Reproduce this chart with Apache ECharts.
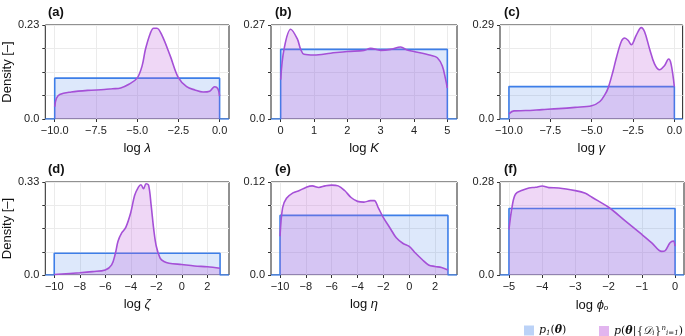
<!DOCTYPE html>
<html>
<head>
<meta charset="utf-8">
<script src="https://cdn.jsdelivr.net/npm/echarts@6/dist/echarts.min.js"></script>
<style>html,body{margin:0;padding:0;background:#fff}#chart{width:685px;height:336px}</style>
</head>
<body>
<div id="chart"></div>
<script>
// posterior density curves
const lambdaX = [-10, -9.9, -9.7, -9, -8, -7, -6.5, -6, -5.5, -5, -4.7, -4.5, -4.2, -4.0, -3.8, -3.5, -3.0, -2.5, -2.0, -1.5, -1.0, -0.6, -0.3, -0.1, 0];
const lambdaY = [0.03, 0.05, 0.06, 0.066, 0.07, 0.072, 0.074, 0.076, 0.085, 0.1, 0.13, 0.17, 0.21, 0.222, 0.222, 0.205, 0.155, 0.101, 0.079, 0.071, 0.066, 0.068, 0.079, 0.074, 0.056];
const kX = [0, 0.1, 0.3, 0.5, 0.6, 0.7, 1.0, 1.5, 2.0, 2.5, 2.7, 3.0, 3.3, 3.6, 3.8, 4.0, 4.5, 4.7, 4.85, 4.95, 5.0];
const kY = [0.113, 0.2, 0.258, 0.23, 0.2, 0.186, 0.184, 0.189, 0.194, 0.197, 0.203, 0.197, 0.2, 0.207, 0.198, 0.194, 0.183, 0.176, 0.152, 0.113, 0.089];
const gammaX = [-10, -9.7, -9, -8, -7, -6, -5, -4.5, -4.2, -4.0, -3.7, -3.5, -3.2, -3.0, -2.8, -2.6, -2.3, -2.0, -1.8, -1.5, -1.2, -0.9, -0.6, -0.35, -0.2, 0];
const gammaY = [0.016, 0.025, 0.026, 0.029, 0.032, 0.036, 0.041, 0.054, 0.075, 0.096, 0.149, 0.19, 0.24, 0.25, 0.243, 0.229, 0.259, 0.282, 0.269, 0.217, 0.17, 0.152, 0.164, 0.185, 0.17, 0.1];
const zetaX = [-10, -8, -7, -6, -5.5, -5.2, -5.0, -4.7, -4.4, -4.0, -3.7, -3.4, -3.2, -3.0, -2.8, -2.6, -2.4, -2.2, -2.0, -1.7, -1.4, -1, 0, 1, 2, 3];
const zetaY = [0.002, 0.008, 0.012, 0.018, 0.036, 0.078, 0.12, 0.15, 0.168, 0.222, 0.282, 0.312, 0.32, 0.306, 0.324, 0.318, 0.246, 0.162, 0.102, 0.06, 0.048, 0.042, 0.037, 0.032, 0.029, 0.024];
const etaX = [-10, -9.8, -9.5, -9, -8.5, -8, -7.5, -7, -6.5, -6, -5.5, -5, -4.5, -4, -3.5, -3, -2.7, -2.4, -2, -1.5, -1, -0.5, 0, 0.5, 1, 1.5, 2, 2.5, 3];
const etaY = [0.05, 0.087, 0.099, 0.106, 0.109, 0.113, 0.115, 0.113, 0.115, 0.116, 0.115, 0.109, 0.1, 0.095, 0.094, 0.096, 0.096, 0.087, 0.074, 0.061, 0.048, 0.041, 0.037, 0.028, 0.02, 0.013, 0.011, 0.0096, 0.0065];
const phiX = [-5, -4.9, -4.8, -4.6, -4.4, -4.2, -4.0, -3.8, -3.5, -3.0, -2.7, -2.5, -2.0, -1.5, -1.0, -0.7, -0.4, -0.3, -0.15, -0.05, 0];
const phiY = [0.137, 0.209, 0.244, 0.255, 0.262, 0.264, 0.268, 0.263, 0.262, 0.254, 0.246, 0.234, 0.204, 0.163, 0.122, 0.097, 0.071, 0.073, 0.097, 0.102, 0.087];

// uniform priors
const priorLow = [-10, 0, -10, -10, -10, -5];
const priorHigh = [0, 5, 0, 3, 3, 0];
const priorHeight = [0.1, 0.2, 0.1, 1 / 13, 1 / 13, 0.2];

const panelTags = ['(a)', '(b)', '(c)', '(d)', '(e)', '(f)'];
const axisNames = ['{r|log }{i|λ}', '{r|log }{i|K}', '{r|log }{i|γ}', '{r|log }{i|ζ}', '{r|log }{i|η}', '{r|log }{i|ϕ}{s|o}'];
const yMax = [0.23, 0.27, 0.29, 0.33, 0.12, 0.28];
const yLabels = ['0.23', '0.27', '0.29', '0.33', '0.12', '0.28'];
const xRange = [[-10.57, 0.57], [-0.29, 5.29], [-10.54, 0.5], [-10.7, 3.7], [-10.7, 3.7], [-5.27, 0.27]];
const xTicks = [
  [-10, -7.5, -5, -2.5, 0],
  [0, 1, 2, 3, 4, 5],
  [-10, -7.5, -5, -2.5, 0],
  [-10, -8, -6, -4, -2, 0, 2],
  [-10, -8, -6, -4, -2, 0, 2],
  [-5, -4, -3, -2, -1, 0]
];
const xDecimals = [1, 0, 1, 0, 0, 0];
const postX = [lambdaX, kX, gammaX, zetaX, etaX, phiX];
const postY = [lambdaY, kY, gammaY, zetaY, etaY, phiY];

const lefts = [44, 271, 500];
const widths = [185, 186, 184];
const tops = [25, 182];
const heights = [94, 93];

const FONT = 'Liberation Sans, Arial, sans-serif';
const SERIF = 'DejaVu Serif, serif';
const chart = echarts.init(document.getElementById('chart'));

const grid = [], xAxis = [], yAxis = [], series = [], title = [];
for (let i = 0; i < 6; i++) {
  const col = i % 3, row = Math.floor(i / 3);
  grid.push({
    left: lefts[col], top: tops[row], width: widths[col], height: heights[row],
    show: true, borderColor: '#222', borderWidth: 1, backgroundColor: 'transparent'
  });
  title.push({
    text: panelTags[i], left: lefts[col] - 1, top: tops[row] - 24,
    textStyle: { fontFamily: FONT, fontSize: 13, fontWeight: 'bold', color: '#111' }
  });
  const m = yMax[i];
  xAxis.push({
    type: 'value', gridIndex: i, min: xRange[i][0], max: xRange[i][1],
    axisLine: { show: false, onZero: false },
    axisTick: { show: true, length: 3, customValues: xTicks[i], lineStyle: { color: '#333' } },
    axisLabel: {
      customValues: xTicks[i], margin: 6, fontFamily: FONT, fontSize: 11, color: '#222',
      formatter: v => (v < 0 ? '\u2212' : '') + Math.abs(v).toFixed(xDecimals[i])
    },
    splitLine: { show: true, lineStyle: { color: '#ebebeb', width: 1 } },
    name: axisNames[i], nameLocation: 'middle', nameGap: 23,
    nameTextStyle: {
      fontFamily: FONT, fontSize: 13, color: '#111',
      rich: {
        r: { fontFamily: FONT, fontSize: 13, color: '#111' },
        i: { fontFamily: FONT, fontStyle: 'italic', fontSize: 13, color: '#111' },
        s: { fontFamily: FONT, fontStyle: 'italic', fontSize: 8, color: '#111', verticalAlign: 'bottom', padding: [6, 0, 0, 0] }
      }
    }
  });
  yAxis.push({
    type: 'value', gridIndex: i, min: 0, max: m,
    axisLine: { show: false, onZero: false },
    axisTick: { show: true, length: 3, customValues: [0, m / 4, m / 2, 3 * m / 4, m], lineStyle: { color: '#333' } },
    axisLabel: {
      customValues: [0, m], margin: 6, fontFamily: FONT, fontSize: 11, color: '#222',
      formatter: v => (v === 0 ? '0.0' : yLabels[i])
    },
    splitLine: { show: true, lineStyle: { color: '#ebebeb', width: 1 } },
    name: col === 0 ? 'Density [\u2013]' : '', nameLocation: 'middle', nameGap: 29,
    nameTextStyle: { fontFamily: FONT, fontSize: 13, color: '#111' }
  });
  const lo = priorLow[i], hi = priorHigh[i], h = priorHeight[i];
  series.push({
    name: 'prior', type: 'line', xAxisIndex: i, yAxisIndex: i, symbol: 'none', z: 2,
    data: [[xRange[i][0], 0], [lo, 0], [lo, h], [hi, h], [hi, 0], [xRange[i][1], 0]],
    lineStyle: { color: '#3d7ee8', width: 1.6 },
    itemStyle: { color: '#3d7ee8' },
    areaStyle: { color: 'rgba(61,126,232,0.25)', origin: 'start' },
    silent: true
  });
  series.push({
    name: 'posterior', type: 'line', xAxisIndex: i, yAxisIndex: i, symbol: 'none', z: 3,
    smooth: 0.35,
    data: postX[i].map((x, k) => [x, postY[i][k]]),
    lineStyle: { color: '#a550d7', width: 1.6 },
    itemStyle: { color: '#a550d7' },
    areaStyle: { color: 'rgba(190,90,220,0.35)', origin: 'start' },
    silent: true
  });
}

const legendRich = {
  m: { fontFamily: SERIF, fontStyle: 'italic', fontSize: 11, color: '#111' },
  b: { fontFamily: SERIF, fontStyle: 'italic', fontWeight: 'bold', fontSize: 11, color: '#111' },
  s: { fontFamily: SERIF, fontStyle: 'italic', fontSize: 7, color: '#111', verticalAlign: 'bottom', padding: [5, 0, 0, 0] },
  u: { fontFamily: SERIF, fontStyle: 'italic', fontSize: 7, color: '#111', verticalAlign: 'top', padding: [0, 0, 5, 0] }
};
const legendText = { rich: legendRich, fontFamily: SERIF, fontSize: 11, color: '#111' };

chart.setOption({
  animation: false,
  title,
  grid, xAxis, yAxis, series,
  legend: [
    {
      left: 519, top: 320, width: 70, itemWidth: 10, itemHeight: 10, selectedMode: false,
      data: [{ name: 'prior', icon: 'rect', itemStyle: { color: 'rgba(61,126,232,0.35)' } }],
      formatter: () => '{m|p}{s|1}({b|θ})',
      textStyle: legendText
    },
    {
      left: 594, top: 320, width: 100, itemWidth: 10, itemHeight: 10, selectedMode: false,
      data: [{ name: 'posterior', icon: 'rect', itemStyle: { color: 'rgba(190,90,220,0.45)' } }],
      formatter: () => '{m|p}({b|θ}|{{m|𝒟}{s|i}}{u|n}{s|i=1})',
      textStyle: legendText
    }
  ]
});
</script>
</body>
</html>
